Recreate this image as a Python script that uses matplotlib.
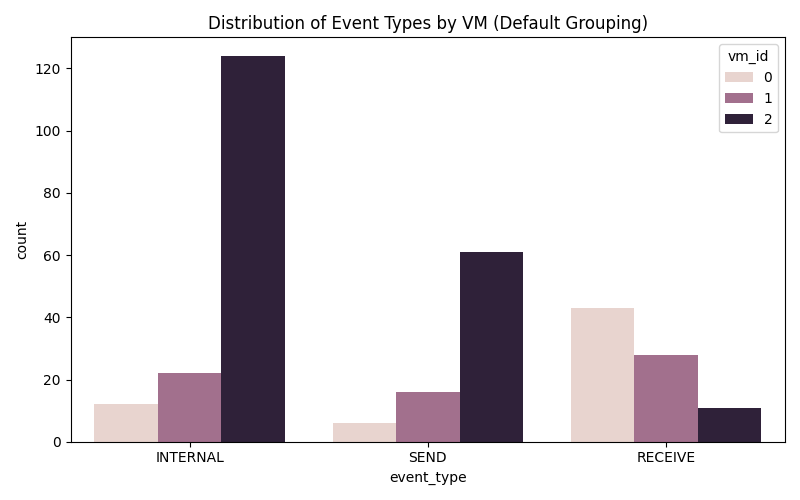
import numpy as np
import matplotlib
matplotlib.use("Agg")
import matplotlib.pyplot as plt

event_types = ["INTERNAL", "SEND", "RECEIVE"]
vm_ids = ["0", "1", "2"]
counts = {
    "0": [12, 6, 43],
    "1": [22, 16, 28],
    "2": [124, 61, 11],
}
colors = ["#e8d4cf", "#a2708d", "#2f2139"]

fig, ax = plt.subplots(figsize=(8, 5), dpi=100)
x = np.arange(len(event_types))
width = 0.8 / len(vm_ids)
for i, vm in enumerate(vm_ids):
    ax.bar(x + (i - 1) * width, counts[vm], width, color=colors[i], label=vm)

ax.set_xticks(x)
ax.set_xticklabels(event_types)
ax.set_xlim(-0.5, 2.5)
ax.set_ylim(0, 130)
ax.set_xlabel("event_type")
ax.set_ylabel("count")
ax.set_title("Distribution of Event Types by VM (Default Grouping)")
ax.legend(title="vm_id", loc="upper right")
fig.tight_layout()
fig.savefig("out.png")
